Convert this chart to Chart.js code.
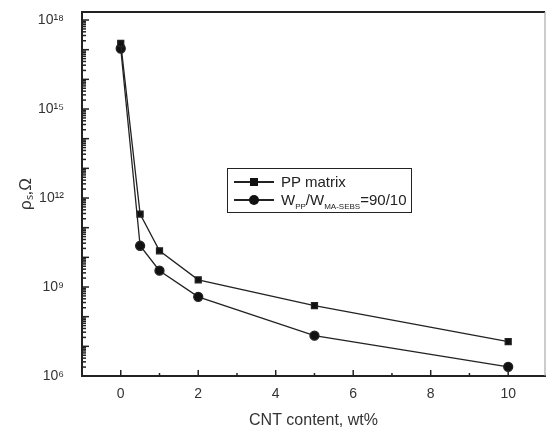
<!DOCTYPE html>
<html>
<head>
<meta charset="utf-8">
<script src="https://cdn.jsdelivr.net/npm/chart.js@4/dist/chart.umd.min.js"></script>
<style>
  body { margin: 0; background: #fff; }
  #wrap { position: relative; width: 546px; height: 434px; }
  #legend {
    position: absolute; left: 227px; top: 168px; width: 183px; height: 43px;
    border: 1.5px solid #222; background: #fff;
    font-family: 'Liberation Sans', Arial, sans-serif; font-size: 15px; color: #222;
  }
  .row { position: absolute; left: 0; height: 18px; line-height: 18px; white-space: nowrap; }
  .row .ln { position: absolute; left: 6px; top: 8px; width: 40px; height: 1.5px; background: #222; }
  .row .mk { position: absolute; left: 22px; background: #111; }
  .row .txt { position: absolute; left: 53px; top: 0; }
  .sq { top: 5px; width: 8px; height: 8px; }
  .ci { top: 4px; width: 10px; height: 10px; border-radius: 50%; left: 21px !important; }
  sub { font-size: 8px; vertical-align: -4px; }
</style>
</head>
<body>
<div id="wrap">
  <canvas id="c" width="546" height="434"></canvas>
  <div id="legend">
    <div class="row" style="top:4px"><span class="ln"></span><span class="mk sq"></span><span class="txt">PP matrix</span></div>
    <div class="row" style="top:22px"><span class="ln"></span><span class="mk ci"></span><span class="txt">W<sub>PP</sub>/W<sub>MA-SEBS</sub>=90/10</span></div>
  </div>
</div>
<script>
/* ── Data (log10 of surface resistivity) ── */
const cntContent = [0, 0.5, 1, 2, 5, 10];
const ppLog      = [17.21, 11.46, 10.22, 9.24, 8.37, 7.16];
const blendLog   = [17.04, 10.39, 9.55, 8.67, 7.36, 6.31];
const yTickExp   = [6, 9, 12, 15, 18];
const xTickVals  = [0, 2, 4, 6, 8, 10];

const ink = '#222';
const font = "'Liberation Sans', Arial, sans-serif";
const sup = { '0':'⁰','1':'¹','2':'²','3':'³','4':'⁴','5':'⁵','6':'⁶','7':'⁷','8':'⁸','9':'⁹' };

const pts = arr => cntContent.map((x, i) => ({ x, y: Math.pow(10, arr[i]) }));

/* ── Inward tick marks drawn from the scales ── */
const innerTicks = {
  id: 'innerTicks',
  afterDraw(chart) {
    const { ctx, chartArea: a, scales: { x, y } } = chart;
    ctx.save();
    ctx.strokeStyle = ink;
    ctx.lineWidth = 1.5;
    for (let v = -1; v <= 11; v++) {
      const px = x.getPixelForValue(v);
      if (px < a.left + 1 || px > a.right - 1) continue;
      const len = v % 2 === 0 ? 6 : 3;
      ctx.beginPath(); ctx.moveTo(px, a.bottom); ctx.lineTo(px, a.bottom - len); ctx.stroke();
    }
    for (let e = 6; e < 19; e++) {
      for (let m = 1; m <= 9; m++) {
        const py = y.getPixelForValue(m * Math.pow(10, e));
        if (py < a.top + 1 || py > a.bottom) continue;
        const len = m === 1 ? 7 : 4;
        ctx.beginPath(); ctx.moveTo(a.left, py); ctx.lineTo(a.left + len, py); ctx.stroke();
      }
    }
    // frame: top and right
    ctx.lineWidth = 2;
    ctx.beginPath(); ctx.moveTo(a.left, a.top); ctx.lineTo(a.right, a.top); ctx.stroke();
    ctx.strokeStyle = '#999'; ctx.lineWidth = 1;
    ctx.beginPath(); ctx.moveTo(a.right, a.top); ctx.lineTo(a.right, a.bottom); ctx.stroke();
    ctx.restore();
  }
};

new Chart(document.getElementById('c'), {
  type: 'line',
  data: {
    datasets: [
      { label: 'PP matrix', data: pts(ppLog), borderColor: ink, backgroundColor: '#111',
        borderWidth: 1.3, pointStyle: 'rect', pointRadius: 4.2, tension: 0 },
      { label: 'WPP/WMA-SEBS=90/10', data: pts(blendLog), borderColor: ink, backgroundColor: '#111',
        borderWidth: 1.3, pointStyle: 'circle', pointRadius: 4.5, tension: 0 }
    ]
  },
  options: {
    responsive: false,
    animation: false,
    layout: { autoPadding: false, padding: { top: 12, right: 1, left: 0, bottom: 0 } },
    plugins: { legend: { display: false }, tooltip: { enabled: false } },
    scales: {
      x: {
        type: 'linear', min: -1, max: 10.95,
        afterFit(s) { s.height = 58; s.paddingLeft = 0; s.paddingRight = 0; },
        afterBuildTicks(s) { s.ticks = xTickVals.map(v => ({ value: v })); },
        grid: { display: false },
        border: { display: true, color: ink, width: 2 },
        ticks: { color: '#333', font: { family: font, size: 14 }, padding: 2 },
        title: { display: true, text: 'CNT content, wt%', color: '#333',
                 font: { family: font, size: 16 }, padding: { top: 4, bottom: 4 } }
      },
      y: {
        type: 'logarithmic', min: 1e6, max: Math.pow(10, 18.27),
        afterFit(s) { s.width = 82; s.paddingTop = 0; s.paddingBottom = 0; },
        afterBuildTicks(s) { s.ticks = yTickExp.map(e => ({ value: Math.pow(10, e) })); },
        grid: { display: false },
        border: { display: true, color: ink, width: 2 },
        ticks: {
          color: '#333', font: { family: font, size: 14 }, padding: 10,
          callback: v => '10' + String(Math.round(Math.log10(v))).split('').map(c => sup[c]).join('')
        },
        title: { display: true, text: 'ρₛ,Ω', color: '#333',
                 font: { family: font, size: 17 }, padding: { top: 16, bottom: 4 } }
      }
    }
  },
  plugins: [innerTicks]
});
</script>
</body>
</html>
